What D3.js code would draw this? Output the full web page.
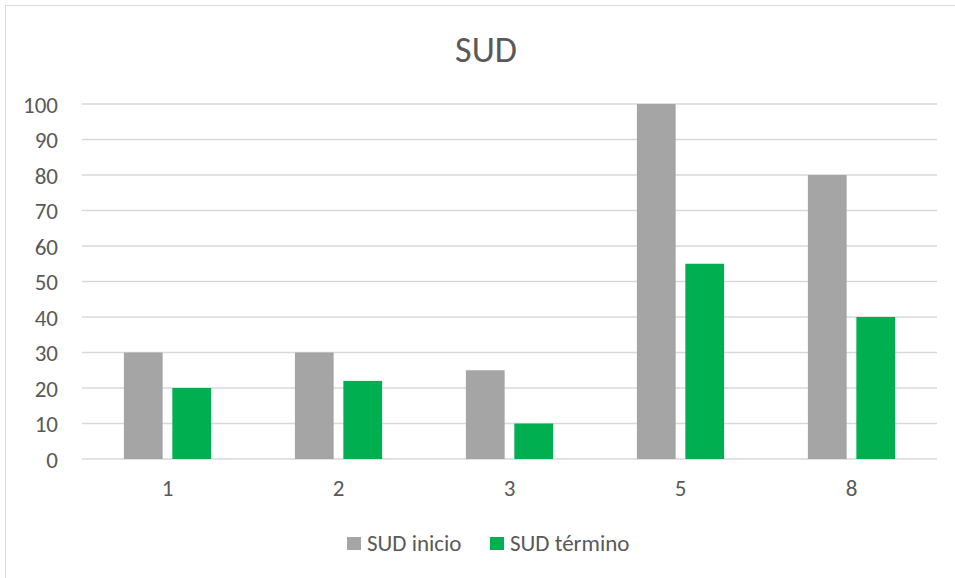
<!DOCTYPE html>
<html>
<head>
<meta charset="utf-8">
<script src="https://cdn.jsdelivr.net/npm/d3@7"></script>
<style>
    body { margin: 0; background: #fff; }
    svg text { font-family: Carlito, Calibri, "Open Sans", "Noto Sans", sans-serif; fill: #595959; }
</style>
</head>
<body>
<div id="chart"></div>
<script>
var categories = ['1', '2', '3', '5', '8'];
var seriesNames = ['SUD inicio', 'SUD término'];
var sudInicio = [30, 30, 25, 100, 80];
var sudTermino = [20, 22, 10, 55, 40];
var yTicks = [0, 10, 20, 30, 40, 50, 60, 70, 80, 90, 100];
var colors = ['#a5a5a5', '#00b050'];

(function () {
    var W = 955, H = 578;
    var plot = { left: 82, right: 937, top: 104, bottom: 459 };

    var svg = d3.select('#chart').append('svg')
        .attr('width', W)
        .attr('height', H);

    // outer chart border (only left/top edges are in view)
    svg.append('rect')
        .attr('x', 5.5).attr('y', 5.5)
        .attr('width', 1000).attr('height', 1000)
        .attr('fill', 'none')
        .attr('stroke', '#d9d9d9');

    svg.append('text')
        .attr('x', 486)
        .attr('y', 62)
        .attr('text-anchor', 'middle')
        .style('font-size', '36px')
        .text('SUD');

    var x = d3.scaleBand()
        .domain(categories)
        .range([plot.left, plot.right])
        .paddingInner(0.49)
        .paddingOuter(0.245);

    var xInner = d3.scaleBand()
        .domain(seriesNames)
        .range([0, x.bandwidth()])
        .paddingInner(0.2);

    var y = d3.scaleLinear()
        .domain([0, 100])
        .range([plot.bottom, plot.top]);

    // gridlines
    svg.append('g')
        .selectAll('line')
        .data(yTicks)
        .enter()
        .append('line')
        .attr('x1', plot.left)
        .attr('x2', plot.right)
        .attr('y1', function (d) { return y(d); })
        .attr('y2', function (d) { return y(d); })
        .attr('stroke', '#d9d9d9')
        .attr('stroke-width', 1.3);

    // y labels
    var yAxis = svg.append('g')
        .attr('transform', 'translate(' + 58 + ',0)')
        .call(d3.axisLeft(y).tickValues(yTicks).tickSize(0).tickPadding(0));
    yAxis.select('.domain').remove();
    yAxis.selectAll('text')
        .style('font-size', '23px')
        .attr('fill', '#595959')
        .attr('dy', '0.35em');

    // x labels
    var xAxis = svg.append('g')
        .attr('transform', 'translate(0,' + plot.bottom + ')')
        .call(d3.axisBottom(x).tickSize(0).tickPadding(0));
    xAxis.select('.domain').remove();
    xAxis.selectAll('text')
        .style('font-size', '23px')
        .attr('fill', '#595959')
        .attr('y', 37)
        .attr('dy', 0);

    var rows = categories.map(function (c, i) {
        return { cat: c, values: [sudInicio[i], sudTermino[i]] };
    });

    var groups = svg.append('g')
        .selectAll('g')
        .data(rows)
        .enter()
        .append('g')
        .attr('transform', function (d) { return 'translate(' + x(d.cat) + ',0)'; });

    groups.selectAll('rect')
        .data(function (d) {
            return d.values.map(function (v, j) { return { name: seriesNames[j], value: v, idx: j }; });
        })
        .enter()
        .append('rect')
        .attr('x', function (d) { return xInner(d.name); })
        .attr('width', xInner.bandwidth())
        .attr('y', function (d) { return y(d.value); })
        .attr('height', function (d) { return y(0) - y(d.value); })
        .attr('fill', function (d) { return colors[d.idx]; });

    // legend
    var legendItems = [
        { name: seriesNames[0], color: colors[0], x: 347 },
        { name: seriesNames[1], color: colors[1], x: 490 }
    ];
    var legend = svg.append('g');
    legendItems.forEach(function (item) {
        legend.append('rect')
            .attr('x', item.x)
            .attr('y', 537)
            .attr('width', 14)
            .attr('height', 13)
            .attr('fill', item.color);
        legend.append('text')
            .attr('x', item.x + 20)
            .attr('y', 551)
            .style('font-size', '23px')
            .text(item.name);
    });
})();
</script>
</body>
</html>
